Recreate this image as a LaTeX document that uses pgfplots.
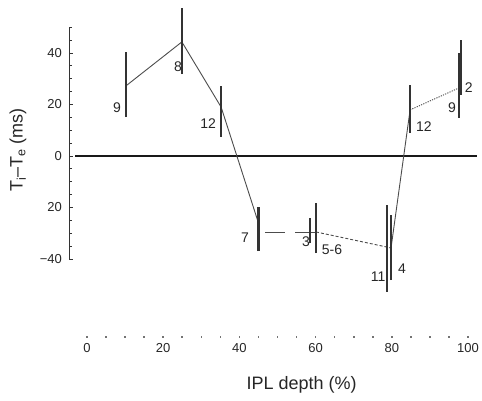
\documentclass[border=0pt]{standalone}
\usepackage{fontspec}
\setmainfont{Liberation Sans}
\usepackage{pgfplots}
\pgfplotsset{compat=1.18}
\tikzset{
 bar/.style={black!80, line width=2.2pt},
 conn/.style={black!70, line width=0.9pt},
 lab/.style={font=\fontsize{14}{16}\selectfont, black!85, inner sep=0pt},
}
\begin{document}
\begin{tikzpicture}
\path[use as bounding box] (-87pt,-245pt) rectangle (395pt,156pt);
\begin{axis}[
 x=3.81pt, y=2.575pt,
 xmin=-4.7, xmax=102.4, ymin=-40, ymax=50,
 at={(-17.907pt,-103pt)}, anchor=south west,
 scale only axis, clip=false,
 axis x line=none, axis y line*=left,
 y axis line style={line width=0.9pt, black!80, -},
 ytick={-40,-20,0,20,40}, yticklabels={−40,20,0,20,40},
 minor ytick={-35,-30,-25,-15,-10,-5,5,10,15,25,30,35,45,50},
 tick align=inside,
 major tick length=4pt, minor tick length=2.5pt,
 every tick/.style={black!80, line width=0.8pt},
 /pgf/number format/assume math mode=true,
 yticklabel style={font=\fontsize{13}{15}\selectfont, black!85, inner sep=0pt, xshift=-7pt},
 ylabel={T\textsubscript{i}–T\textsubscript{e} (ms)},
 ylabel style={at={(axis description cs:-0.125,0.47)}, anchor=center, font=\fontsize{18}{20}\selectfont, black!85},
]
% zero line
\addplot[black!90, line width=1.1pt] coordinates {(-3.1,0) (102.4,0)};
% connecting lines
\addplot[conn] coordinates {(10.2,27.2) (24.9,44.3) (35.2,19) (45,-26)};
\addplot[conn, dash pattern=on 20pt off 10pt, dash phase=23pt] coordinates {(45,-29.5) (60.1,-29.5)};
\addplot[conn, dash pattern=on 3pt off 2pt] coordinates {(60.1,-29.5) (79.8,-35.7)};
\addplot[conn] coordinates {(79.8,-35.7) (84.8,17.9)};
\addplot[conn, dash pattern=on 1.2pt off 1.2pt] coordinates {(84.8,17.9) (97.6,26.4)};
% bars
\addplot[bar] coordinates {(10.2,15.1) (10.2,40.4)};
\addplot[bar] coordinates {(24.9,31.8) (24.9,57.5)};
\addplot[bar] coordinates {(35.2,7.4) (35.2,27.2)};
\addplot[bar] coordinates {(45,-36.9) (45,-19.8)};
\addplot[bar, line width=1.4pt] coordinates {(58.5,-33.8) (58.5,-24.1)};
\addplot[bar] coordinates {(60.1,-37.7) (60.1,-18.3)};
\addplot[bar] coordinates {(78.8,-52.8) (78.8,-19)};
\addplot[bar] coordinates {(79.8,-48.2) (79.8,-22.9)};
\addplot[bar] coordinates {(84.8,8.9) (84.8,27.6)};
\addplot[bar] coordinates {(97.6,14.8) (97.6,40)};
\addplot[bar] coordinates {(98.2,23.7) (98.2,45)};
% labels
\node[lab] at (axis cs:7.9,18.6) {9};
\node[lab] at (axis cs:23.9,34.6) {8};
\node[lab] at (axis cs:31.8,12.4) {12};
\node[lab] at (axis cs:41.5,-31.8) {7};
\node[lab] at (axis cs:57.5,-33.4) {3};
\node[lab] at (axis cs:64.3,-36.5) {5-6};
\node[lab] at (axis cs:76.4,-47) {11};
\node[lab] at (axis cs:82.7,-43.9) {4};
\node[lab] at (axis cs:88.4,11.3) {12};
\node[lab] at (axis cs:95.8,18.6) {9};
\node[lab] at (axis cs:100.2,26.4) {2};
\end{axis}
\begin{axis}[
 x=3.81pt, y=1pt, xmin=-4.7, xmax=102.4, ymin=0, ymax=1,
 at={(-17.907pt,-181pt)}, anchor=south west, scale only axis,
 axis y line=none, axis x line*=bottom, x axis line style={draw=none},
 xtick={0,20,40,60,80,100},
 minor xtick={5,10,15,25,30,35,45,50,55,65,70,75,85,90,95},
 tick align=center, major tick length=1.8pt, minor tick length=1.6pt,
 every tick/.style={line width=1.6pt, black!55},
 /pgf/number format/assume math mode=true,
 xticklabel style={font=\fontsize{13}{15}\selectfont, black!85, inner sep=0pt, yshift=-5pt},
 xlabel={IPL depth (\%)},
 xlabel style={at={(axis description cs:0.57,0)}, anchor=center, yshift=-48pt, font=\fontsize{18}{20}\selectfont, black!85},
]
\end{axis}
\end{tikzpicture}
\end{document}
